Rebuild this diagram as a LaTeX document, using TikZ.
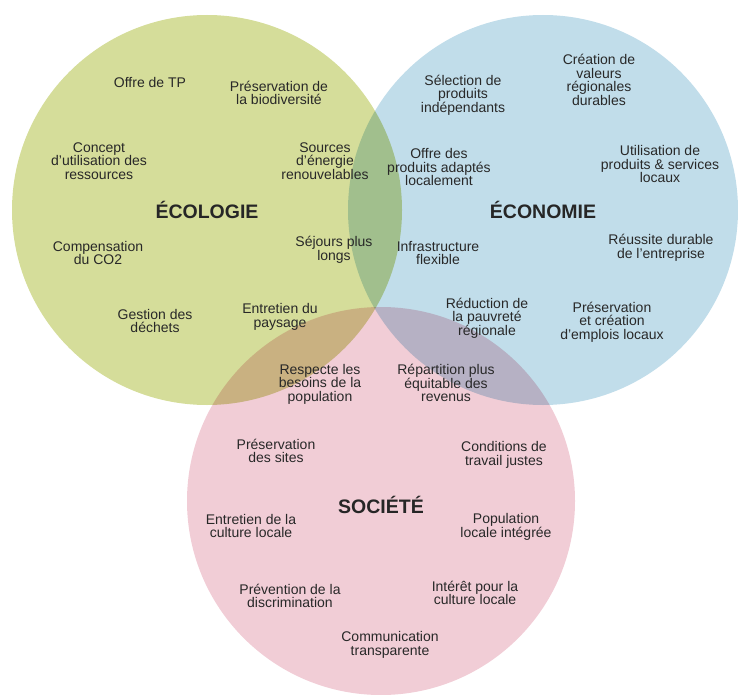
\documentclass[tikz,border=0pt]{standalone}
\usepackage{fontspec}
\setmainfont{Liberation Sans}
\usetikzlibrary{positioning}
\definecolor{ecocol}{RGB}{213,221,154}
\definecolor{ecncol}{RGB}{193,221,234}
\definecolor{soccol}{RGB}{241,205,214}
\definecolor{txtcol}{RGB}{40,40,40}
\tikzset{item/.style={align=center,text=txtcol,inner sep=0pt,
    font=\fontsize{14}{13.5}\selectfont}}
\tikzset{title/.style={text=black!85,inner sep=0pt,
    font=\bfseries\fontsize{19.5}{20}\selectfont}}

\begin{document}
\begin{tikzpicture}[x=1pt,y=-1pt]
        \useasboundingbox (0,0) rectangle (738,695);
        \coordinate (ecoc) at (207,210);
        \coordinate (ecnc) at (543,210);
        \coordinate (socc) at (381,501);
        \begin{scope}[blend group=multiply]
          \fill[ecocol] (ecoc) circle[radius=195];
          \fill[ecncol] (ecnc) circle[radius=195];
          \fill[soccol] (socc) circle[radius=194];
        \end{scope}
        % titres
        \node(eco)[title] at (ecoc){ÉCOLOGIE};
        \node(ecn)[title] at (ecnc){ÉCONOMIE};
        \node(soc)[title] at (381,505){SOCIÉTÉ};
        % écologie
        \node(tp)[item] at (150,82){Offre de TP};
        \node(bio)[item] at (279,93){Préservation de\\la biodiversité};
        \node(res)[item] at (99,161){Concept\\d'utilisation des\\ressources};
        \node(ener)[item] at (325,161){Sources\\d'énergie\\renouvelables};
        \node(co2)[item] at (98,253){Compensation\\du CO2};
        \node(sej)[item] at (334,250){Séjours plus\\longs};
        \node(dech)[item] at (155,321){Gestion des\\déchets};
        \node(pays)[item] at (280,317){Entretien du\\paysage};
        % économie
        \node(sel)[item] at (463,95){Sélection de\\produits\\indépendants};
        \node(val)[item] at (599,80){Création de\\valeurs\\régionales\\durables};
        \node(adap)[item] at (439,167){Offre des\\produits adaptés\\localement};
        \node(loc)[item] at (660,164){Utilisation de\\produits \& services\\locaux};
        \node(infra)[item] at (438,253){Infrastructure\\flexible};
        \node(reus)[item] at (661,248){Réussite durable\\de l'entreprise};
        \node(pauv)[item] at (487,318){Réduction de\\la pauvreté\\régionale};
        \node(empl)[item] at (612,322){Préservation\\et création\\d'emplois locaux};
        % société
        \node(bes)[item] at (320,384){Respecte les\\besoins de la\\population};
        \node(rev)[item] at (446,383){Répartition plus\\équitable des\\revenus};
        \node(sites)[item] at (276,451){Préservation\\des sites};
        \node(trav)[item] at (504,455){Conditions de\\travail justes};
        \node(cult)[item] at (251,526){Entretien de la\\culture locale};
        \node(pop)[item] at (506,527){Population\\locale intégrée};
        \node(disc)[item] at (290,596){Prévention de la\\discrimination};
        \node(int)[item] at (475,593){Intérêt pour la\\culture locale};
        \node(comm)[item] at (390,645){Communication\\transparente};
      \end{tikzpicture}
\end{document}
